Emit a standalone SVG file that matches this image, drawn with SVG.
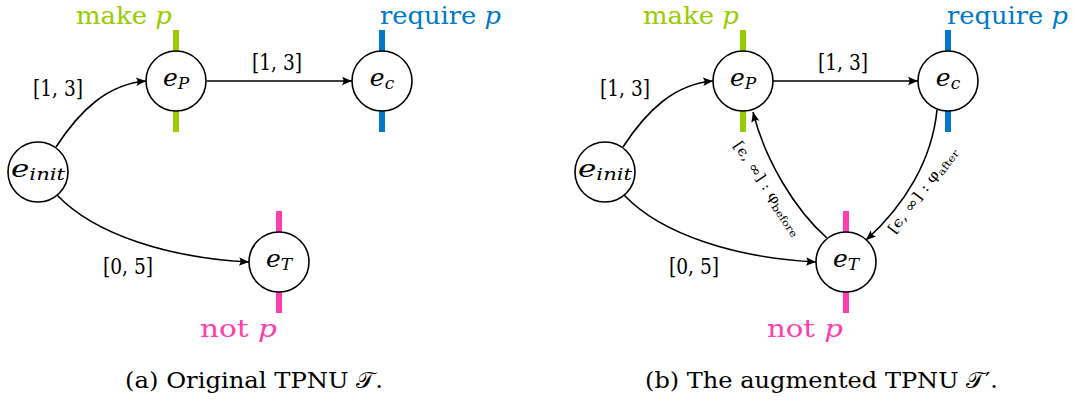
<svg xmlns="http://www.w3.org/2000/svg" width="1075" height="404" viewBox="0 0 1075 404" font-family="DejaVu Serif, serif">
<style>
  text { font-family: "DejaVu Serif", "Liberation Serif", serif; fill: #000; }
  .node circle { fill: #fff; stroke: #000; stroke-width: 1.6; }
  .nl { font-style: italic; font-size: 25px; text-anchor: middle; }
  .sub { font-size: 17px; }
  .edge { fill: none; stroke: #000; stroke-width: 1.6; marker-end: url(#arr); }
  .lbl { font-size: 23px; text-anchor: middle; }
  .rl { font-size: 14px; text-anchor: middle; }
  .rsub { font-size: 10px; }
  .cap { font-size: 23px; }
  .tag { font-size: 25px; }
  .bar { stroke-width: 6; }
  .g { fill: #99cc00; stroke: #99cc00; }
  .b { fill: #0079c6; stroke: #0079c6; }
  .p { fill: #ff3fae; stroke: #ff3fae; }
  text.g, text.b, text.p { stroke: none; }
  .i { font-style: italic; }
</style>
<defs>
  <marker id="arr" viewBox="-11 -5 12 10" refX="0" refY="0" markerWidth="12" markerHeight="10" markerUnits="userSpaceOnUse" orient="auto">
    <path d="M0,0 L-10,-4.2 Q-7,0 -10,4.2 Z" fill="#000"/>
  </marker>
</defs>

<!-- connectors -->
<g id="connectors">
  <path class="edge" d="M56,147 C80,110 108,84 146,81"/>
  <path class="edge" d="M207,81 L352,81"/>
  <path class="edge" d="M57,195 C95,235 170,258 249,262"/>
  <path class="edge" d="M623,147 C647,110 675,84 713,81"/>
  <path class="edge" d="M773,81 L918,81"/>
  <path class="edge" d="M624,195 C662,235 737,258 816,262"/>
  <path class="edge" d="M827,238 C795,210 765,160 753,112"/>
  <path class="edge" d="M937,110 C932,160 905,205 866,240"/>
</g>

<!-- edge labels -->
<g id="edge-labels">
  <text class="lbl" x="58" y="96" textLength="50" lengthAdjust="spacingAndGlyphs">[1, 3]</text>
  <text class="lbl" x="277" y="70" textLength="50" lengthAdjust="spacingAndGlyphs">[1, 3]</text>
  <text class="lbl" x="128" y="274" textLength="50" lengthAdjust="spacingAndGlyphs">[0, 5]</text>
  <text class="lbl" x="625" y="96" textLength="50" lengthAdjust="spacingAndGlyphs">[1, 3]</text>
  <text class="lbl" x="843" y="70" textLength="50" lengthAdjust="spacingAndGlyphs">[1, 3]</text>
  <text class="lbl" x="694" y="274" textLength="50" lengthAdjust="spacingAndGlyphs">[0, 5]</text>
  <g transform="translate(768,188) rotate(56)">
    <text class="rl" x="0" y="5" textLength="110" lengthAdjust="spacingAndGlyphs">[ϵ, ∞] : φ<tspan class="rsub" dy="3">before</tspan></text>
  </g>
  <g transform="translate(922,190) rotate(-53)">
    <text class="rl" x="0" y="5" textLength="104" lengthAdjust="spacingAndGlyphs">[ϵ, ∞] : φ<tspan class="rsub" dy="3">after</tspan></text>
  </g>
</g>

<!-- left diagram nodes -->
<g id="a-einit" class="node">
  <circle cx="38" cy="172" r="30"/>
  <text class="nl" x="38" y="177" textLength="54" lengthAdjust="spacingAndGlyphs">e<tspan class="sub" dy="3">init</tspan></text>
</g>
<g id="a-eP" class="node">
  <line class="bar g" x1="176" y1="30" x2="176" y2="51"/>
  <line class="bar g" x1="176" y1="111" x2="176" y2="132"/>
  <circle cx="176" cy="81" r="30"/>
  <text class="nl" x="176" y="86">e<tspan class="sub" dy="3">P</tspan></text>
  <text class="tag g" x="172" y="24" text-anchor="end" textLength="96" lengthAdjust="spacingAndGlyphs">make <tspan class="i">p</tspan></text>
</g>
<g id="a-ec" class="node">
  <line class="bar b" x1="382" y1="30" x2="382" y2="51"/>
  <line class="bar b" x1="382" y1="111" x2="382" y2="132"/>
  <circle cx="382" cy="81" r="30"/>
  <text class="nl" x="382" y="86">e<tspan class="sub" dy="3">c</tspan></text>
  <text class="tag b" x="380" y="24" textLength="121" lengthAdjust="spacingAndGlyphs">require <tspan class="i">p</tspan></text>
</g>
<g id="a-eT" class="node">
  <line class="bar p" x1="279" y1="211" x2="279" y2="232"/>
  <line class="bar p" x1="279" y1="292" x2="279" y2="313"/>
  <circle cx="279" cy="262" r="30"/>
  <text class="nl" x="279" y="267">e<tspan class="sub" dy="3">T</tspan></text>
  <text class="tag p" x="277" y="337" text-anchor="end" textLength="77" lengthAdjust="spacingAndGlyphs">not <tspan class="i">p</tspan></text>
</g>

<!-- right diagram nodes -->
<g id="b-einit" class="node">
  <circle cx="605" cy="172" r="30"/>
  <text class="nl" x="605" y="177" textLength="54" lengthAdjust="spacingAndGlyphs">e<tspan class="sub" dy="3">init</tspan></text>
</g>
<g id="b-eP" class="node">
  <line class="bar g" x1="743" y1="30" x2="743" y2="51"/>
  <line class="bar g" x1="743" y1="111" x2="743" y2="132"/>
  <circle cx="743" cy="81" r="30"/>
  <text class="nl" x="743" y="86">e<tspan class="sub" dy="3">P</tspan></text>
  <text class="tag g" x="739" y="24" text-anchor="end" textLength="96" lengthAdjust="spacingAndGlyphs">make <tspan class="i">p</tspan></text>
</g>
<g id="b-ec" class="node">
  <line class="bar b" x1="948" y1="30" x2="948" y2="51"/>
  <line class="bar b" x1="948" y1="111" x2="948" y2="132"/>
  <circle cx="948" cy="81" r="30"/>
  <text class="nl" x="948" y="86">e<tspan class="sub" dy="3">c</tspan></text>
  <text class="tag b" x="947" y="24" textLength="121" lengthAdjust="spacingAndGlyphs">require <tspan class="i">p</tspan></text>
</g>
<g id="b-eT" class="node">
  <line class="bar p" x1="846" y1="211" x2="846" y2="232"/>
  <line class="bar p" x1="846" y1="292" x2="846" y2="313"/>
  <circle cx="846" cy="262" r="30"/>
  <text class="nl" x="846" y="267">e<tspan class="sub" dy="3">T</tspan></text>
  <text class="tag p" x="843" y="337" text-anchor="end" textLength="76" lengthAdjust="spacingAndGlyphs">not <tspan class="i">p</tspan></text>
</g>

<!-- captions -->
<text class="cap" x="125" y="388" textLength="258" lengthAdjust="spacingAndGlyphs">(a) Original TPNU 𝒯.</text>
<text class="cap" x="645" y="388" textLength="353" lengthAdjust="spacingAndGlyphs">(b) The augmented TPNU 𝒯′.</text>
</svg>
